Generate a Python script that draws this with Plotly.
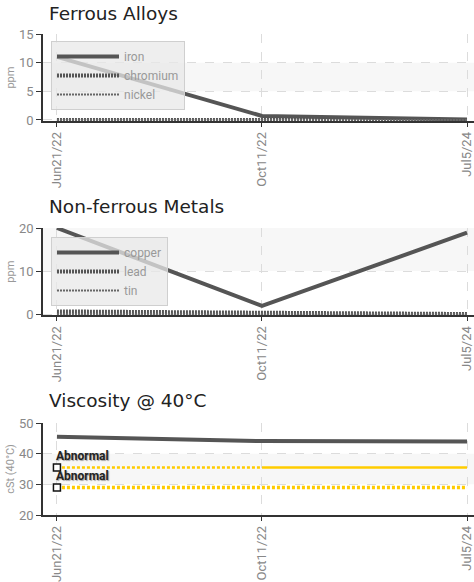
import plotly.graph_objects as go

dates = ["Jun21/22", "Oct11/22", "Jul5/24"]

iron = [11.0, 0.7, 0.1]
chromium = [0.0, 0.0, 0.0]
nickel = [0.0, 0.0, 0.0]

copper = [20.0, 1.9, 18.9]
lead = [0.6, 0.3, 0.0]
tin = [0.0, 0.0, 0.0]

viscosity = [45.5, 44.1, 44.0]
abnormal_high = [35.5, 35.5, 35.5]
abnormal_low = [29.0, 29.0, 29.0]

NARROW = "Roboto, Liberation Sans Narrow, sans-serif"
TITLE = "DejaVu Sans, Verdana, sans-serif"
W, H = 474, 582

def px(xp):
    return xp / W

def py(yp):
    return 1 - yp / H

fig = go.Figure()

def line(name, y, xa, ya, width, dash, color, legend, show=True):
    fig.add_trace(go.Scatter(
        x=dates, y=y, name=name, mode="lines", xaxis=xa, yaxis=ya,
        line=dict(color=color, width=width, dash=dash),
        legend=legend, showlegend=show, hoverinfo="skip"))

line("iron", iron, "x", "y", 4, "solid", "#555", "legend")
line("chromium", chromium, "x", "y", 4, "2px,1px", "#555", "legend")
line("nickel", nickel, "x", "y", 2, "2px,1px", "#666", "legend")

line("copper", copper, "x2", "y2", 4, "solid", "#555", "legend2")
line("lead", lead, "x2", "y2", 4, "2px,1px", "#555", "legend2")
line("tin", tin, "x2", "y2", 2, "2px,1px", "#666", "legend2")

line("viscosity", viscosity, "x3", "y3", 4, "solid", "#555", "legend", show=False)

# upper limit: dotted, then solid from the second sample on
fig.add_trace(go.Scatter(
    x=dates, y=[abnormal_high[0], abnormal_high[1], None], mode="lines", xaxis="x3", yaxis="y3",
    line=dict(color="#ffcc00", width=2.5, dash="3px,2px"), showlegend=False, hoverinfo="skip"))
fig.add_trace(go.Scatter(
    x=dates, y=[None] + abnormal_high[1:], mode="lines", xaxis="x3", yaxis="y3",
    line=dict(color="#ffcc00", width=2.5), showlegend=False, hoverinfo="skip"))
fig.add_trace(go.Scatter(
    x=dates, y=abnormal_low, mode="lines", xaxis="x3", yaxis="y3",
    line=dict(color="#ffcc00", width=3.5, dash="3px,2px"), showlegend=False, hoverinfo="skip"))

for lim in (abnormal_high, abnormal_low):
    fig.add_trace(go.Scatter(
        x=dates[:1], y=lim[:1], mode="markers", xaxis="x3", yaxis="y3",
        marker=dict(symbol="square", size=7, color="white",
                    line=dict(color="#111", width=1.5)),
        showlegend=False, hoverinfo="skip"))
    fig.add_annotation(x=0, y=lim[0], xref="x3", yref="y3", text="Abnormal",
                       showarrow=False, xanchor="left", yanchor="bottom",
                       xshift=-3, yshift=2,
                       font=dict(family=NARROW, size=12, color="#222",
                                 weight="bold", shadow="1px 1px 1px rgba(0,0,0,0.35)"))

xdom = [px(43), 1.0]

panels = [
    ("", [py(121.1), py(34)], [-0.2, 15], [0, 5, 10, 15], "ppm", (5, 10)),
    ("2", [py(315.3), py(228)], [-0.3, 20], [0, 10, 20], "ppm", (10, 20)),
    ("3", [py(515), py(423)], [20, 50], [20, 30, 40, 50], "cSt (40°C)", (30, 40)),
]

layout = dict(width=W, height=H, margin=dict(l=0, r=0, t=0, b=0),
              paper_bgcolor="white", plot_bgcolor="white", showlegend=True)
shapes = []
for suf, yd, yr, tv, ytitle, band in panels:
    xa = "xaxis" + suf
    ya = "yaxis" + suf
    layout[xa] = dict(domain=xdom, type="category", range=[-0.068, 2.034],
                      anchor="y" + suf, showgrid=True, gridcolor="#dcdcdc", griddash="dash",
                      gridwidth=1, showline=True, linecolor="#333", linewidth=1.5,
                      ticks="outside", ticklen=4, tickcolor="#333", tickangle=-90,
                      tickfont=dict(family=NARROW, size=13, color="#888"),
                      zeroline=False, fixedrange=True, automargin=False)
    layout[ya] = dict(domain=yd, range=yr, tickvals=tv, anchor="x" + suf,
                      showgrid=True, gridcolor="#dcdcdc", griddash="dash", gridwidth=1,
                      showline=True, linecolor="#333", linewidth=1.5,
                      ticks="outside", ticklen=5, tickcolor="#333",
                      tickfont=dict(family=NARROW, size=13, color="#888"),
                      title=dict(text=ytitle, font=dict(family=NARROW, size=11, color="#999"),
                                 standoff=2),
                      zeroline=False, fixedrange=True, automargin=False)
    shapes.append(dict(type="rect", xref="x" + suf + " domain", yref="y" + suf,
                       x0=0, x1=1, y0=band[0], y1=band[1], fillcolor="#f7f7f7",
                       line=dict(width=0), layer="below"))
layout["shapes"] = shapes

leg_common = dict(xanchor="left", yanchor="top", bgcolor="rgba(232,232,232,0.75)",
                  bordercolor="#cfcfcf", borderwidth=1, itemwidth=62,
                  font=dict(family=NARROW, size=12, color="#999"), tracegroupgap=0)
layout["legend"] = dict(x=px(51), y=py(41), **leg_common)
layout["legend2"] = dict(x=px(51), y=py(237), **leg_common)

fig.update_layout(**layout)

for text, ypx in [("Ferrous Alloys", 13), ("Non-ferrous Metals", 206), ("Viscosity @ 40°C", 400)]:
    fig.add_annotation(x=px(47), y=py(ypx), xref="paper", yref="paper", text=text,
                       showarrow=False, xanchor="left", yanchor="middle",
                       font=dict(family=TITLE, size=18.5, color="#222"))

fig.write_html("out.html", config={"displayModeBar": False},
               post_script="document.body.style.margin='0';")
